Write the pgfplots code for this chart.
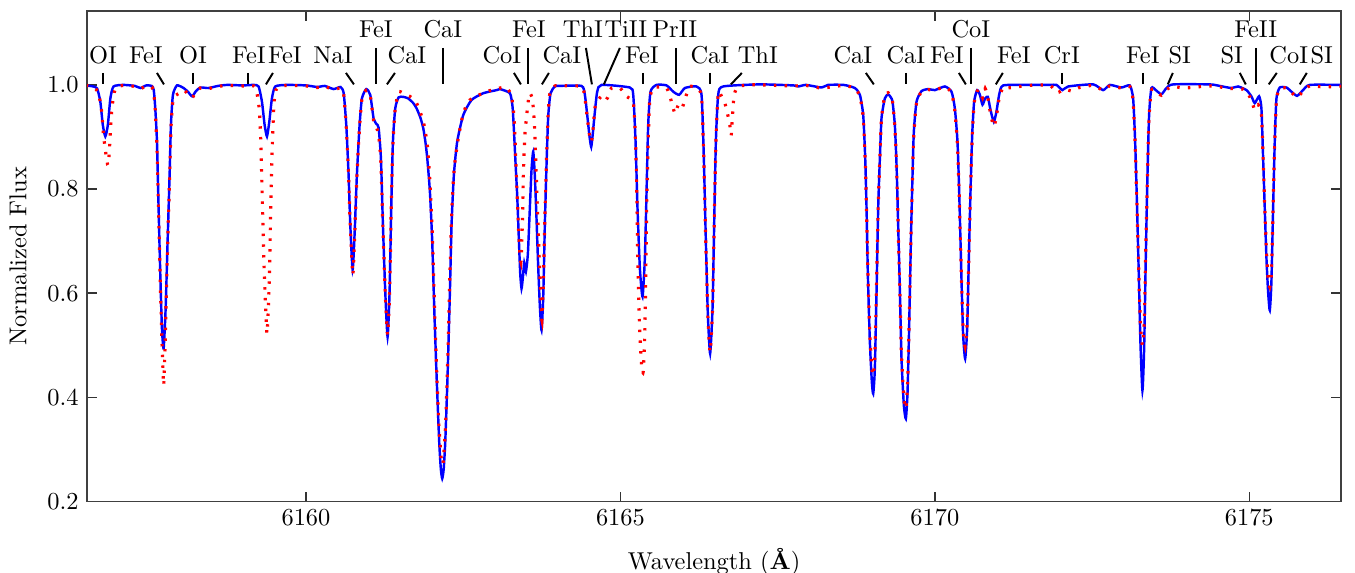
\documentclass[border=0pt]{standalone}
\usepackage{pgfplots}
\pgfplotsset{compat=1.18}

% label in the lower row: text, x of text, x of line top, x of line bottom
\newcommand\lbl[4]{%
  \node[anchor=base,inner sep=0pt] at (axis cs:#2,1.042) {#1};
  \draw[line width=0.8pt] (axis cs:#3,1.023) -- (axis cs:#4,1.001);}
% label in the upper row
\newcommand\ulbl[4]{%
  \node[anchor=base,inner sep=0pt] at (axis cs:#2,1.092) {#1};
  \draw[line width=0.8pt] (axis cs:#3,1.071) -- (axis cs:#4,1.001);}

\begin{document}
\begin{tikzpicture}
\begin{axis}[
    width=514pt, height=201pt, scale only axis,
    xmin=6156.52, xmax=6176.46,
    ymin=0.2, ymax=1.142,
    xtick={6160,6165,6170,6175},
    ytick={0.2,0.4,0.6,0.8,1.0},
    scaled x ticks=false,
    xticklabel style={/pgf/number format/1000 sep={}},
    yticklabel style={/pgf/number format/fixed,
        /pgf/number format/fixed zerofill,
        /pgf/number format/precision=1},
    tick align=inside,
    major tick length=4pt,
    axis line style={black!75, line width=0.6pt},
    every tick/.style={black!80, line width=0.6pt},
    xlabel={Wavelength (\textbf{\AA})},
    ylabel={Normalized Flux},
    xlabel style={at={(axis description cs:0.5,-0.138)}, anchor=base},
    ylabel style={at={(axis description cs:-0.055,0.5)}, anchor=center},
]
% model spectrum
\addplot[blue, line width=1pt, smooth, tension=0.35] table {
x y
6156.50 0.999
6156.62 0.997
6156.68 0.993
6156.73 0.968
6156.77 0.923
6156.81 0.901
6156.85 0.923
6156.89 0.974
6156.94 0.997
6157.10 1.000
6157.28 0.998
6157.37 0.994
6157.46 0.999
6157.55 0.998
6157.58 0.990
6157.604 0.955
6157.631 0.891
6157.657 0.763
6157.684 0.635
6157.710 0.532
6157.737 0.494
6157.769 0.571
6157.800 0.699
6157.832 0.827
6157.853 0.923
6157.885 0.981
6157.949 0.999
6158.055 0.994
6158.13 0.986
6158.19 0.978
6158.25 0.988
6158.32 0.995
6158.45 0.994
6158.60 0.998
6158.75 1.000
6159.00 0.999
6159.17 1.000
6159.247 0.997
6159.300 0.968
6159.343 0.923
6159.380 0.901
6159.417 0.929
6159.459 0.974
6159.512 0.997
6159.70 1.000
6160.00 0.999
6160.18 0.996
6160.30 0.998
6160.44 0.992
6160.55 0.996
6160.60 0.984
6160.641 0.923
6160.678 0.827
6160.705 0.731
6160.742 0.645
6160.773 0.712
6160.810 0.827
6160.853 0.923
6160.890 0.974
6160.959 0.992
6161.022 0.981
6161.075 0.936
6161.120 0.925
6161.155 0.918
6161.192 0.859
6161.224 0.731
6161.261 0.603
6161.298 0.516
6161.330 0.603
6161.356 0.763
6161.383 0.891
6161.420 0.955
6161.473 0.976
6161.55 0.977
6161.626 0.974
6161.70 0.966
6161.759 0.955
6161.82 0.937
6161.865 0.917
6161.900 0.890
6161.929 0.859
6161.971 0.795
6162.008 0.699
6162.040 0.571
6162.077 0.442
6162.119 0.314
6162.145 0.262
6162.167 0.244
6162.190 0.262
6162.215 0.314
6162.252 0.442
6162.289 0.603
6162.315 0.731
6162.352 0.827
6162.405 0.891
6162.501 0.942
6162.633 0.971
6162.819 0.984
6163.031 0.990
6163.084 0.992
6163.243 0.984
6163.285 0.958
6163.307 0.913
6163.333 0.849
6163.360 0.785
6163.386 0.702
6163.407 0.638
6163.428 0.609
6163.450 0.631
6163.471 0.658
6163.497 0.641
6163.529 0.676
6163.561 0.766
6163.587 0.837
6163.614 0.872
6163.640 0.824
6163.667 0.740
6163.693 0.651
6163.720 0.574
6163.746 0.529
6163.773 0.593
6163.799 0.734
6163.826 0.849
6163.852 0.939
6163.889 0.984
6163.958 0.997
6164.011 0.998
6164.382 0.998
6164.435 0.981
6164.478 0.936
6164.510 0.900
6164.536 0.881
6164.560 0.905
6164.584 0.936
6164.631 0.987
6164.700 1.000
6165.150 0.995
6165.204 0.981
6165.241 0.891
6165.272 0.763
6165.310 0.647
6165.352 0.593
6165.389 0.667
6165.416 0.795
6165.442 0.923
6165.479 0.987
6165.575 1.000
6165.734 0.999
6165.840 0.987
6165.935 0.981
6166.025 0.994
6166.210 0.997
6166.290 0.981
6166.327 0.859
6166.359 0.699
6166.391 0.558
6166.427 0.484
6166.465 0.571
6166.491 0.731
6166.518 0.891
6166.555 0.981
6166.634 0.997
6167.217 1.001
6167.75 0.999
6167.83 0.997
6167.95 1.000
6168.20 0.995
6168.30 1.000
6168.55 1.000
6168.728 0.994
6168.808 0.981
6168.861 0.942
6168.893 0.859
6168.914 0.763
6168.935 0.635
6168.967 0.506
6168.998 0.430
6169.020 0.407
6169.046 0.455
6169.073 0.603
6169.099 0.763
6169.126 0.859
6169.152 0.936
6169.205 0.974
6169.258 0.982
6169.300 0.976
6169.327 0.968
6169.364 0.923
6169.391 0.846
6169.417 0.731
6169.444 0.603
6169.470 0.474
6169.507 0.385
6169.539 0.359
6169.566 0.410
6169.592 0.538
6169.619 0.699
6169.645 0.827
6169.666 0.910
6169.709 0.968
6169.788 0.988
6169.894 0.992
6170.000 0.990
6170.159 0.997
6170.265 0.987
6170.318 0.955
6170.360 0.891
6170.387 0.795
6170.408 0.699
6170.429 0.603
6170.450 0.519
6170.482 0.474
6170.514 0.532
6170.541 0.667
6170.567 0.795
6170.594 0.904
6170.625 0.968
6170.673 0.990
6170.716 0.981
6170.758 0.962
6170.800 0.974
6170.843 0.977
6170.885 0.952
6170.938 0.929
6170.980 0.949
6171.023 0.981
6171.087 0.999
6171.50 1.000
6171.829 1.000
6171.934 1.000
6172.029 0.990
6172.120 0.997
6172.517 1.001
6172.676 0.990
6172.782 1.000
6172.967 0.995
6173.100 0.999
6173.153 0.974
6173.185 0.891
6173.216 0.763
6173.243 0.635
6173.269 0.506
6173.301 0.413
6173.328 0.494
6173.354 0.667
6173.381 0.827
6173.407 0.942
6173.444 0.994
6173.513 0.990
6173.603 0.982
6173.683 0.994
6173.789 1.001
6174.372 1.001
6174.531 0.998
6174.716 0.994
6174.822 0.997
6174.955 0.990
6175.034 0.978
6175.087 0.965
6175.156 0.978
6175.193 0.955
6175.220 0.859
6175.246 0.763
6175.273 0.667
6175.299 0.603
6175.326 0.567
6175.352 0.622
6175.379 0.763
6175.405 0.891
6175.432 0.974
6175.485 0.995
6175.591 0.995
6175.670 0.987
6175.760 0.979
6175.855 0.990
6175.961 1.000
6176.439 1.000
6176.50 1.000
};
% observed spectrum
\addplot[red, line width=1.3pt, dash pattern=on 1pt off 3.4pt, smooth, tension=0.35] table {
x y
6156.50 0.999
6156.62 0.996
6156.70 0.985
6156.75 0.950
6156.78 0.905
6156.81 0.875
6156.835 0.855
6156.85 0.846
6156.87 0.865
6156.89 0.910
6156.915 0.955
6156.95 0.985
6156.99 0.996
6157.10 0.999
6157.28 0.997
6157.37 0.993
6157.46 0.998
6157.55 0.996
6157.58 0.985
6157.604 0.950
6157.631 0.880
6157.657 0.750
6157.684 0.620
6157.710 0.510
6157.737 0.423
6157.755 0.480
6157.775 0.571
6157.800 0.690
6157.832 0.820
6157.853 0.915
6157.885 0.970
6157.93 0.980
6158.00 0.985
6158.06 0.990
6158.13 0.982
6158.19 0.975
6158.25 0.987
6158.32 0.994
6158.45 0.993
6158.60 0.997
6158.75 0.999
6159.00 0.998
6159.17 0.998
6159.22 0.985
6159.26 0.950
6159.285 0.880
6159.31 0.760
6159.337 0.640
6159.36 0.570
6159.38 0.522
6159.40 0.565
6159.42 0.640
6159.44 0.760
6159.464 0.880
6159.49 0.960
6159.52 0.990
6159.60 0.998
6159.70 0.999
6160.00 0.998
6160.18 0.995
6160.30 0.997
6160.44 0.991
6160.55 0.994
6160.60 0.982
6160.641 0.920
6160.678 0.825
6160.705 0.728
6160.745 0.635
6160.773 0.705
6160.810 0.825
6160.853 0.920
6160.890 0.972
6160.959 0.990
6161.022 0.980
6161.075 0.932
6161.120 0.918
6161.155 0.905
6161.192 0.850
6161.224 0.725
6161.261 0.600
6161.298 0.520
6161.330 0.600
6161.356 0.760
6161.383 0.888
6161.420 0.955
6161.470 0.985
6161.500 0.987
6161.600 0.981
6161.653 0.978
6161.759 0.965
6161.865 0.930
6161.929 0.885
6161.971 0.814
6162.008 0.718
6162.045 0.571
6162.077 0.455
6162.114 0.346
6162.156 0.276
6162.183 0.276
6162.220 0.346
6162.252 0.462
6162.289 0.635
6162.321 0.763
6162.358 0.840
6162.421 0.897
6162.501 0.945
6162.607 0.971
6162.872 0.987
6163.084 0.994
6163.190 0.995
6163.269 0.978
6163.312 0.933
6163.338 0.849
6163.360 0.785
6163.381 0.721
6163.402 0.676
6163.418 0.660
6163.428 0.683
6163.444 0.747
6163.455 0.817
6163.466 0.862
6163.481 0.904
6163.497 0.926
6163.534 0.968
6163.561 0.984
6163.603 0.971
6163.635 0.920
6163.656 0.849
6163.677 0.772
6163.699 0.702
6163.720 0.631
6163.741 0.574
6163.752 0.548
6163.773 0.612
6163.799 0.740
6163.826 0.862
6163.852 0.945
6163.879 0.984
6163.958 0.998
6164.011 0.998
6164.380 0.997
6164.435 0.975
6164.480 0.930
6164.520 0.895
6164.541 0.891
6164.565 0.915
6164.600 0.960
6164.647 0.971
6164.700 0.978
6164.753 0.970
6164.800 0.976
6164.859 0.994
6165.000 0.993
6165.098 0.978
6165.150 0.974
6165.204 0.968
6165.230 0.923
6165.256 0.827
6165.272 0.699
6165.288 0.603
6165.310 0.519
6165.341 0.455
6165.363 0.449
6165.384 0.506
6165.400 0.603
6165.416 0.750
6165.442 0.891
6165.468 0.974
6165.522 0.994
6165.575 0.996
6165.734 0.994
6165.797 0.974
6165.840 0.955
6165.871 0.945
6165.908 0.958
6165.945 0.965
6165.988 0.958
6166.041 0.978
6166.105 0.997
6166.210 0.994
6166.290 0.978
6166.327 0.855
6166.359 0.695
6166.391 0.555
6166.427 0.487
6166.465 0.570
6166.491 0.728
6166.518 0.888
6166.555 0.984
6166.600 0.980
6166.661 0.965
6166.703 0.945
6166.740 0.923
6166.762 0.903
6166.783 0.942
6166.809 0.981
6166.873 0.997
6167.058 1.000
6167.217 1.000
6167.75 0.998
6167.95 0.999
6168.20 0.994
6168.55 0.999
6168.728 0.993
6168.808 0.978
6168.861 0.938
6168.893 0.855
6168.914 0.760
6168.935 0.640
6168.967 0.520
6168.998 0.455
6169.020 0.442
6169.046 0.480
6169.073 0.615
6169.099 0.765
6169.126 0.860
6169.152 0.936
6169.205 0.980
6169.258 0.985
6169.300 0.978
6169.327 0.968
6169.364 0.920
6169.391 0.843
6169.417 0.728
6169.444 0.600
6169.470 0.480
6169.507 0.400
6169.539 0.378
6169.566 0.425
6169.592 0.545
6169.619 0.699
6169.645 0.825
6169.666 0.905
6169.709 0.965
6169.788 0.987
6169.894 0.991
6170.000 0.990
6170.159 0.996
6170.265 0.985
6170.318 0.950
6170.360 0.885
6170.387 0.790
6170.408 0.695
6170.429 0.605
6170.450 0.530
6170.482 0.497
6170.514 0.545
6170.541 0.670
6170.567 0.795
6170.594 0.900
6170.625 0.965
6170.673 0.988
6170.716 0.990
6170.758 0.975
6170.800 0.993
6170.843 0.975
6170.885 0.945
6170.938 0.920
6170.980 0.940
6171.023 0.975
6171.087 0.996
6171.150 0.994
6171.500 0.999
6171.829 0.999
6171.934 0.985
6172.000 0.988
6172.060 0.992
6172.190 0.988
6172.300 0.995
6172.517 0.999
6172.676 0.990
6172.782 0.998
6172.967 0.994
6173.100 0.997
6173.153 0.970
6173.185 0.885
6173.216 0.760
6173.243 0.640
6173.269 0.540
6173.301 0.500
6173.328 0.540
6173.354 0.680
6173.381 0.830
6173.407 0.940
6173.444 0.990
6173.513 0.988
6173.603 0.980
6173.683 0.991
6173.789 0.997
6173.970 0.994
6174.372 0.998
6174.716 0.993
6174.900 0.992
6174.955 0.988
6175.034 0.971
6175.087 0.952
6175.140 0.962
6175.193 0.945
6175.220 0.860
6175.246 0.765
6175.273 0.680
6175.299 0.630
6175.326 0.612
6175.352 0.640
6175.379 0.770
6175.405 0.890
6175.432 0.972
6175.485 0.993
6175.591 0.994
6175.670 0.986
6175.760 0.976
6175.855 0.988
6175.961 0.998
6176.200 0.996
6176.500 0.998
};
% line identifications
\lbl{OI}{6156.773}{6156.773}{6156.773}
\lbl{FeI}{6157.456}{6157.631}{6157.742}
\lbl{OI}{6158.203}{6158.203}{6158.203}
\lbl{FeI}{6159.094}{6159.078}{6159.078}
\lbl{FeI}{6159.666}{6159.475}{6159.364}
\lbl{NaI}{6160.429}{6160.636}{6160.763}
\ulbl{FeI}{6161.113}{6161.113}{6161.113}
\lbl{CaI}{6161.606}{6161.415}{6161.288}
\ulbl{CaI}{6162.178}{6162.178}{6162.178}
\lbl{CoI}{6163.116}{6163.307}{6163.418}
\ulbl{FeI}{6163.545}{6163.529}{6163.529}
\lbl{CaI}{6164.070}{6163.863}{6163.752}
\ulbl{ThI}{6164.404}{6164.452}{6164.547}
\ulbl{TiII}{6165.087}{6164.992}{6164.738}
\ulbl{PrII}{6165.866}{6165.882}{6165.882}
\lbl{FeI}{6165.342}{6165.358}{6165.358}
\lbl{CaI}{6166.423}{6166.423}{6166.423}
\lbl{ThI}{6167.186}{6166.932}{6166.757}
\lbl{CaI}{6168.696}{6168.903}{6169.030}
\lbl{CaI}{6169.539}{6169.539}{6169.539}
\lbl{FeI}{6170.191}{6170.382}{6170.493}
\ulbl{CoI}{6170.572}{6170.572}{6170.572}
\lbl{FeI}{6171.256}{6171.081}{6170.970}
\lbl{CrI}{6172.019}{6172.019}{6172.019}
\lbl{FeI}{6173.307}{6173.307}{6173.307}
\lbl{SI}{6173.895}{6173.784}{6173.704}
\ulbl{FeII}{6175.103}{6175.103}{6175.103}
\lbl{SI}{6174.722}{6174.849}{6174.944}
\lbl{CoI}{6175.628}{6175.437}{6175.310}
\lbl{SI}{6176.153}{6175.914}{6175.803}
\end{axis}
\pgfresetboundingbox
\path ([shift={(-35.7pt,-29.1pt)}]current axis.south west)
  rectangle ([shift={(5.7pt,4.5pt)}]current axis.north east);
\end{tikzpicture}
\end{document}
